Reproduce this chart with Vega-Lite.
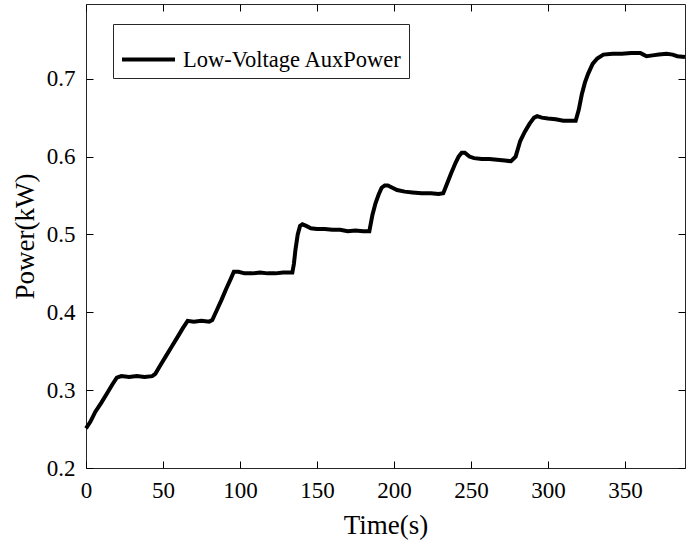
{
  "$schema": "https://vega.github.io/schema/vega-lite/v6.json",
  "width": 599,
  "height": 464,
  "autosize": {"type": "none"},
  "padding": {"left": 86, "top": 4, "right": 14, "bottom": 77},
  "background": "white",
  "config": {
    "view": {"stroke": "#262626", "strokeWidth": 1},
    "font": "Liberation Serif"
  },
  "data": {
    "values": [
      {"time": 0, "power": 0.251}, {"time": 3, "power": 0.260}, {"time": 6, "power": 0.272},
      {"time": 10, "power": 0.284}, {"time": 14, "power": 0.297}, {"time": 17, "power": 0.307},
      {"time": 20, "power": 0.316}, {"time": 23, "power": 0.318}, {"time": 28, "power": 0.317},
      {"time": 33, "power": 0.318}, {"time": 38, "power": 0.317}, {"time": 43, "power": 0.318},
      {"time": 45, "power": 0.321}, {"time": 48, "power": 0.331}, {"time": 52, "power": 0.344},
      {"time": 56, "power": 0.357}, {"time": 60, "power": 0.370}, {"time": 63, "power": 0.380},
      {"time": 66, "power": 0.389}, {"time": 70, "power": 0.388}, {"time": 75, "power": 0.389},
      {"time": 80, "power": 0.388}, {"time": 82, "power": 0.390}, {"time": 85, "power": 0.403},
      {"time": 88, "power": 0.416}, {"time": 91, "power": 0.430}, {"time": 94, "power": 0.443},
      {"time": 96, "power": 0.452}, {"time": 99, "power": 0.452}, {"time": 103, "power": 0.450},
      {"time": 108, "power": 0.450}, {"time": 113, "power": 0.451}, {"time": 118, "power": 0.450},
      {"time": 123, "power": 0.450}, {"time": 128, "power": 0.451}, {"time": 134, "power": 0.451},
      {"time": 135, "power": 0.462}, {"time": 136, "power": 0.480}, {"time": 137.5, "power": 0.500},
      {"time": 139, "power": 0.511}, {"time": 140.5, "power": 0.513}, {"time": 143, "power": 0.511},
      {"time": 146, "power": 0.508}, {"time": 150, "power": 0.507}, {"time": 155, "power": 0.507},
      {"time": 160, "power": 0.506}, {"time": 165, "power": 0.506}, {"time": 170, "power": 0.504},
      {"time": 175, "power": 0.505}, {"time": 180, "power": 0.504}, {"time": 184, "power": 0.504},
      {"time": 186, "power": 0.525}, {"time": 188, "power": 0.540}, {"time": 190, "power": 0.551},
      {"time": 192, "power": 0.560}, {"time": 194, "power": 0.563}, {"time": 196, "power": 0.563},
      {"time": 199, "power": 0.560}, {"time": 202, "power": 0.557}, {"time": 207, "power": 0.555},
      {"time": 212, "power": 0.554}, {"time": 218, "power": 0.553}, {"time": 224, "power": 0.553},
      {"time": 229, "power": 0.552}, {"time": 232, "power": 0.553}, {"time": 234, "power": 0.563},
      {"time": 237, "power": 0.578}, {"time": 240, "power": 0.592}, {"time": 242, "power": 0.600},
      {"time": 244, "power": 0.605}, {"time": 246, "power": 0.605}, {"time": 249, "power": 0.600},
      {"time": 252, "power": 0.598}, {"time": 257, "power": 0.597}, {"time": 262, "power": 0.597},
      {"time": 267, "power": 0.596}, {"time": 272, "power": 0.595}, {"time": 276, "power": 0.594},
      {"time": 279, "power": 0.600}, {"time": 282, "power": 0.620}, {"time": 285, "power": 0.632},
      {"time": 288, "power": 0.642}, {"time": 291, "power": 0.650}, {"time": 293, "power": 0.652},
      {"time": 296, "power": 0.650}, {"time": 300, "power": 0.649}, {"time": 305, "power": 0.648},
      {"time": 310, "power": 0.646}, {"time": 315, "power": 0.646}, {"time": 318, "power": 0.646},
      {"time": 320, "power": 0.660}, {"time": 322, "power": 0.680}, {"time": 324, "power": 0.695},
      {"time": 326, "power": 0.706}, {"time": 329, "power": 0.719}, {"time": 332, "power": 0.726},
      {"time": 336, "power": 0.731}, {"time": 342, "power": 0.732}, {"time": 348, "power": 0.732},
      {"time": 354, "power": 0.733}, {"time": 360, "power": 0.733}, {"time": 362, "power": 0.731},
      {"time": 364, "power": 0.729}, {"time": 368, "power": 0.730}, {"time": 372, "power": 0.731},
      {"time": 377, "power": 0.732}, {"time": 381, "power": 0.731}, {"time": 384, "power": 0.729},
      {"time": 389, "power": 0.728}
    ]
  },
  "layer": [
    {
      "mark": {"type": "line", "strokeOpacity": 0},
      "encoding": {
        "x": {
          "field": "time", "type": "quantitative",
          "scale": {"domain": [0, 389], "nice": false, "zero": false},
          "axis": {
            "orient": "bottom", "title": "Time(s)", "grid": false, "offset": -7,
            "values": [0, 50, 100, 150, 200, 250, 300, 350],
            "domain": false, "ticks": true, "tickSize": 7, "tickColor": "black",
            "labelFont": "Liberation Serif", "labelFontSize": 23, "labelColor": "black",
            "labelPadding": 11, "labelFlush": false,
            "titleFont": "Liberation Serif", "titleFontSize": 27, "titleFontWeight": "normal", "titleColor": "black",
            "titleX": 299.5, "titleY": 72, "titleBaseline": "alphabetic", "titleAlign": "center"
          }
        },
        "y": {
          "field": "power", "type": "quantitative",
          "scale": {"domain": [0.2, 0.796], "nice": false, "zero": false},
          "axis": {
            "orient": "left", "title": "Power(kW)", "grid": false, "offset": -7,
            "values": [0.2, 0.3, 0.4, 0.5, 0.6, 0.7], "format": ".1f",
            "domain": false, "ticks": true, "tickSize": 7, "tickColor": "black",
            "labelFont": "Liberation Serif", "labelFontSize": 23, "labelColor": "black",
            "labelPadding": 11, "labelFlush": false,
            "titleFont": "Liberation Serif", "titleFontSize": 27, "titleFontWeight": "normal", "titleColor": "black",
            "titleX": -60, "titleY": 232, "titleAngle": -90, "titleBaseline": "alphabetic", "titleAlign": "center"
          }
        }
      }
    },
    {
      "mark": {"type": "line", "strokeOpacity": 0},
      "encoding": {
        "x": {
          "field": "time", "type": "quantitative",
          "axis": {"orient": "top", "labels": false, "title": null, "grid": false, "offset": -7,
            "values": [0, 50, 100, 150, 200, 250, 300, 350],
            "domain": false, "ticks": true, "tickSize": 7, "tickColor": "black"}
        },
        "y": {
          "field": "power", "type": "quantitative",
          "axis": {"orient": "right", "labels": false, "title": null, "grid": false, "offset": -7,
            "values": [0.2, 0.3, 0.4, 0.5, 0.6, 0.7],
            "domain": false, "ticks": true, "tickSize": 7, "tickColor": "black"}
        }
      }
    },
    {
      "mark": {"type": "line", "strokeWidth": 4, "color": "black"},
      "encoding": {
        "x": {"field": "time", "type": "quantitative", "axis": null},
        "y": {"field": "power", "type": "quantitative", "axis": null},
        "color": {
          "datum": "Low-Voltage AuxPower",
          "type": "nominal",
          "scale": {"range": ["black"]},
          "legend": {
            "orient": "none", "legendX": 27, "legendY": 20,
            "title": null,
            "symbolType": "stroke", "symbolSize": 2809, "symbolStrokeWidth": 4,
            "symbolStrokeColor": "black",
            "labelFont": "Liberation Serif", "labelFontSize": 22.5, "labelColor": "black",
            "labelOffset": 6, "labelLimit": 400,
            "strokeColor": "#262626", "fillColor": "white", "padding": 7
          }
        }
      }
    }
  ],
  "resolve": {"axis": {"x": "independent", "y": "independent"}}
}
